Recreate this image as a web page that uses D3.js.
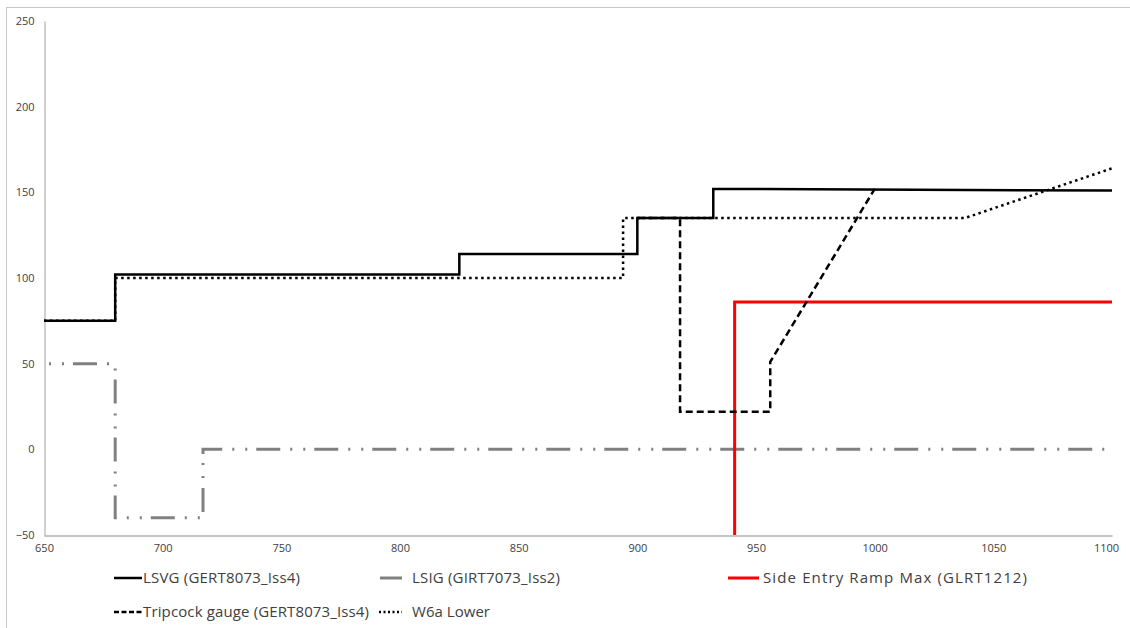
<!DOCTYPE html>
<html>
<head>
<meta charset="utf-8">
<script src="https://cdn.jsdelivr.net/npm/d3@7"></script>
<style>
  html, body { margin: 0; padding: 0; background: #fff; }
  svg { display: block; }
  text { font-family: "Open Sans", "Noto Sans", sans-serif; fill: #404040; }
</style>
</head>
<body>
<svg id="chart" width="1130" height="628"></svg>
<script>
// ---------------- data ----------------
const xTicks = [650, 700, 750, 800, 850, 900, 950, 1000, 1050, 1100];
const yTicks = [-50, 0, 50, 100, 150, 200, 250];

const seriesNames = [
  "LSVG (GERT8073_Iss4)",
  "LSIG (GIRT7073_Iss2)",
  "Side Entry Ramp Max (GLRT1212)",
  "Tripcock gauge (GERT8073_Iss4)",
  "W6a Lower"
];

const lsvgX = [650, 680, 680, 825, 825, 900, 900, 932, 932, 1100];
const lsvgY = [75, 75, 102, 102, 114, 114, 135, 135, 152, 151];

const lsigX = [650, 680, 680, 717, 717, 1100];
const lsigY = [50, 50, -40, -40, 0, 0];

const rampX = [941, 941, 1100];
const rampY = [-50, 86, 86];

const tripX = [900, 918, 918, 956, 956, 1000];
const tripY = [135, 135, 22, 22, 51, 152];

const w6aX = [650, 680, 680, 894, 894, 1038, 1100];
const w6aY = [75, 75, 100, 100, 135, 135, 164];

// ---------------- chart ----------------
const svg = d3.select("#chart");

// outer frame (only top & left visible)
svg.append("rect")
  .attr("x", 6.5).attr("y", 7.5)
  .attr("width", 2000).attr("height", 2000)
  .attr("fill", "none").attr("stroke", "#c6c6c6").attr("stroke-width", 1);

const x = d3.scaleLinear().domain([650, 1100]).range([44, 1112]);
const y = d3.scaleLinear().domain([-50, 250]).range([535, 21]);

// axes
const yAxis = svg.append("g")
  .attr("transform", "translate(44.5,0)")
  .call(d3.axisLeft(y).tickValues(yTicks).tickSize(0).tickPadding(10).tickFormat(d3.format("d")));
yAxis.select(".domain").attr("stroke", "#b0b0b0").attr("stroke-width", 1.2);
yAxis.selectAll("text").style("font-size", "11px").style("fill", "#404040");

const xAxis = svg.append("g")
  .attr("transform", "translate(0,535.5)")
  .call(d3.axisBottom(x).tickValues(xTicks).tickSize(0).tickPadding(9).tickFormat(d3.format("d")));
xAxis.select(".domain").attr("stroke", "#8a8a8a").attr("stroke-width", 1.2);
xAxis.selectAll("text").style("font-size", "11px").style("fill", "#404040");
xAxis.selectAll(".tick").filter(d => d === 1100).select("text").attr("dx", "-6");

const line = d3.line().x(d => x(d[0])).y(d => y(d[1]));
const zip = (a, b) => a.map((v, i) => [v, b[i]]);

const styles = [
  { color: "#000000", width: 2.5, dash: null, offset: 0 },
  { color: "#808080", width: 3, dash: "24,10,2,11,2,9", offset: 29 },
  { color: "#ff0000", width: 3, dash: null, offset: 0 },
  { color: "#000000", width: 2.5, dash: "7,4", offset: 0 },
  { color: "#000000", width: 2.5, dash: "2.5,3.5", offset: 0 }
];

const data = [
  zip(lsvgX, lsvgY),
  zip(lsigX, lsigY),
  zip(rampX, rampY),
  zip(tripX, tripY),
  zip(w6aX, w6aY)
];

const order = [1, 2, 0, 3, 4];
order.forEach(i => {
  svg.append("path")
    .datum(data[i])
    .attr("d", line)
    .attr("fill", "none")
    .attr("stroke", styles[i].color)
    .attr("stroke-width", styles[i].width)
    .attr("stroke-linejoin", "miter")
    .attr("stroke-dasharray", styles[i].dash)
    .attr("stroke-dashoffset", styles[i].offset);
});

// legend
const legendItems = [
  { i: 0, sx: 114, sw: 28, tx: 143, ty: 578, tw: 157 },
  { i: 1, sx: 380, sw: 22, tx: 412, ty: 578, tw: 148 },
  { i: 2, sx: 728, sw: 31, tx: 763, ty: 578, tw: 264 },
  { i: 3, sx: 114, sw: 28, tx: 143, ty: 612, tw: 226 },
  { i: 4, sx: 379, sw: 23, tx: 412, ty: 612, tw: 78 }
];
const legendDash = ["", "", "", "5,2.5", "2,2.5"];
const lg = svg.append("g");
legendItems.forEach(it => {
  const s = styles[it.i];
  lg.append("line")
    .attr("x1", it.sx).attr("x2", it.sx + it.sw)
    .attr("y1", it.ty).attr("y2", it.ty)
    .attr("stroke", s.color).attr("stroke-width", s.width)
    .attr("stroke-dasharray", legendDash[it.i] || null);
  lg.append("text")
    .attr("x", it.tx).attr("y", it.ty)
    .attr("dy", "0.35em")
    .attr("textLength", it.tw)
    .attr("lengthAdjust", "spacing")
    .style("font-size", "15px")
    .text(seriesNames[it.i]);
});
</script>
</body>
</html>
